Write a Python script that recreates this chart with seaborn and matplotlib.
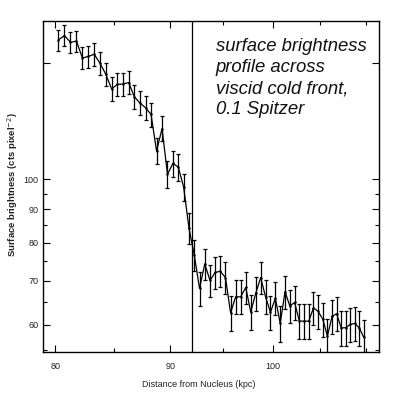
import numpy as np
import pandas as pd
import seaborn as sns
import matplotlib.pyplot as plt
from matplotlib.ticker import FixedLocator, FixedFormatter, NullFormatter

# distance bins (kpc) and profile values
distance = [80.25, 80.75, 81.25, 81.75, 82.25, 82.75, 83.25, 83.75, 84.25, 84.75,
            85.25, 85.75, 86.25, 86.75, 87.25, 87.75, 88.25, 88.75, 89.25, 89.75,
            90.25, 90.75, 91.25, 91.75, 92.25, 92.75, 93.25, 93.75, 94.25, 94.75,
            95.25, 95.75, 96.25, 96.75, 97.25, 97.75, 98.25, 98.75, 99.25, 99.75,
            100.25, 100.75, 101.25, 101.75, 102.25, 102.75, 103.25, 103.75, 104.25, 104.75,
            105.25, 105.75, 106.25, 106.75, 107.25, 107.75, 108.25, 108.75, 109.25, 109.75]
brightness = [162.8, 165.3, 161.4, 162.1, 152.8, 153.6, 154.8, 150.0, 144.3, 137.1,
              139.3, 139.5, 140.2, 133.4, 130.5, 128.4, 125.4, 110.3, 119.3, 101.7,
              105.6, 104.3, 97.2, 84.2, 76.6, 68.2, 74.3, 70.1, 72.1, 72.4,
              70.8, 62.6, 66.2, 66.2, 68.4, 62.8, 67.0, 70.8, 66.2, 62.7,
              65.9, 60.3, 67.4, 64.1, 64.9, 60.8, 60.8, 60.8, 63.7, 62.9,
              61.2, 57.7, 61.8, 62.4, 59.4, 59.4, 60.1, 60.3, 59.4, 57.5]
errors = [6.0, 6.0, 6.0, 6.0, 6.0, 6.0, 6.0, 6.0, 5.8, 5.7,
          5.7, 5.7, 5.7, 5.5, 5.4, 5.4, 5.3, 5.0, 5.2, 4.8,
          4.9, 4.9, 4.7, 4.5, 4.2, 4.0, 4.1, 4.0, 4.0, 4.0,
          4.0, 3.8, 3.9, 3.9, 3.9, 3.8, 3.9, 4.0, 3.9, 3.8,
          3.8, 3.7, 3.9, 3.8, 3.8, 3.7, 3.7, 3.7, 3.7, 3.7,
          3.6, 3.6, 3.6, 3.7, 3.6, 3.6, 3.6, 3.6, 3.6, 3.6]
front_position = 92.0

x_ticks = [80, 90, 100]
x_minor = [85, 95, 105, 110]
y_ticks = [60, 70, 80, 90, 100, 150]
y_tick_labels = ['60', '70', '80', '90', '100', '']
y_minor = [55, 65, 75, 85, 95]

annotation = "surface brightness\nprofile across\nviscid cold front,\n0.1 Spitzer"

df = pd.DataFrame({'distance': distance, 'brightness': brightness, 'err': errors})

sns.set_style('ticks')
plt.rcParams['font.family'] = ['Liberation Sans', 'DejaVu Sans']

fig = plt.figure(figsize=(3.99, 3.94), dpi=100)
ax = fig.add_axes([0.108, 0.107, 0.842, 0.840])

ax.errorbar(df['distance'], df['brightness'], yerr=df['err'], fmt='none',
            ecolor='black', elinewidth=0.9, capsize=1.6, capthick=0.9, zorder=2)
sns.lineplot(data=df, x='distance', y='brightness', ax=ax, color='black',
             linewidth=0.9, marker='o', markersize=1.8, markeredgewidth=0, zorder=3)
ax.axvline(front_position, color='black', linewidth=0.9)

ax.set_xscale('log')
ax.set_yscale('log')
ax.set_xlim(79.0, 111.5)
ax.set_ylim(54.6, 174.0)

ax.xaxis.set_major_locator(FixedLocator(x_ticks))
ax.xaxis.set_major_formatter(FixedFormatter([str(t) for t in x_ticks]))
ax.xaxis.set_minor_locator(FixedLocator(x_minor))
ax.xaxis.set_minor_formatter(NullFormatter())
ax.yaxis.set_major_locator(FixedLocator(y_ticks))
ax.yaxis.set_major_formatter(FixedFormatter(y_tick_labels))
ax.yaxis.set_minor_locator(FixedLocator(y_minor))
ax.yaxis.set_minor_formatter(NullFormatter())

ax.tick_params(which='both', direction='in', top=True, right=True,
               width=0.8, colors='black', labelcolor='#222222', labelsize=6.5)
ax.tick_params(axis='x', which='major', length=5, pad=7)
ax.tick_params(axis='y', which='major', length=5, pad=3.5)
ax.tick_params(which='minor', length=3)
for s in ax.spines.values():
    s.set_linewidth(1.0)
    s.set_color('black')

ax.set_xlabel('Distance from Nucleus (kpc)', fontsize=6.5, color='#222222')
ax.xaxis.set_label_coords(0.464, -0.085)
ax.set_ylabel(r'Surface brightness (cts pixel$^{-2}$)', fontsize=6.8,
              fontweight='bold', color='#222222')
ax.yaxis.set_label_coords(-0.068, 0.505)

fig.text(0.541, 0.903, annotation, fontsize=13.3, style='italic',
         va='top', ha='left', linespacing=1.3, color='#111111')

fig.savefig('out.png', dpi=100)
